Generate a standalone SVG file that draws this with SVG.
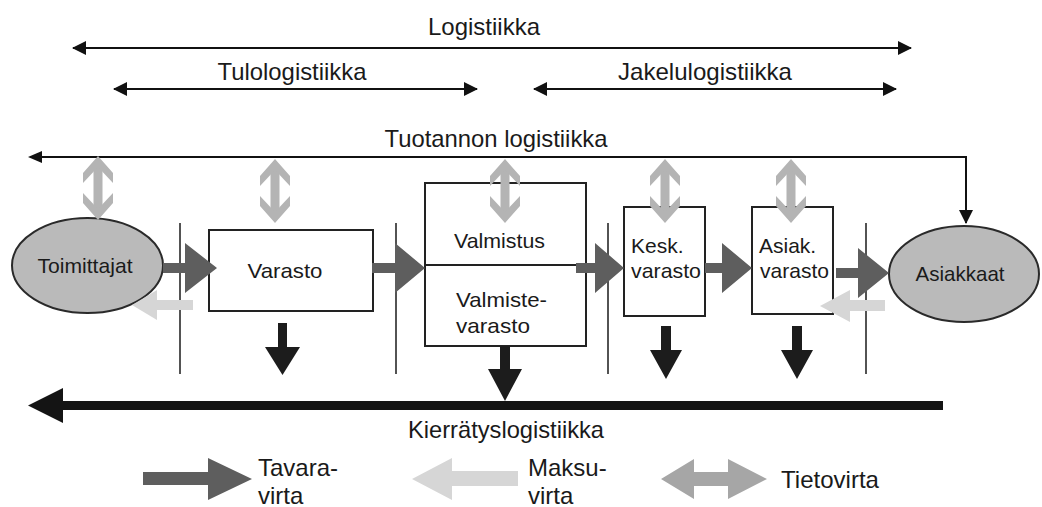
<svg xmlns="http://www.w3.org/2000/svg" width="1042" height="507" viewBox="0 0 1042 507">
  <defs>
    <style>
      .lbl { font-family: "Liberation Sans", Arial, sans-serif; fill: #1a1a1a; }
      .top { font-size: 24px; }
      .node { font-size: 21px; }
      .leg { font-size: 24px; }
      .thin { stroke: #111; stroke-width: 2; fill: none; }
      .sep { stroke: #1a1a1a; stroke-width: 1.5; }
      .box { fill: #fff; stroke: #222; stroke-width: 2; }
      .oval { fill: #bababa; stroke: #2a2a2a; stroke-width: 2; }
      .goods { fill: #5e5e5e; }
      .pay { fill: #d6d6d6; }
      .info { fill: #b4b4b4; }
      .infoLeg { fill: #a6a6a6; }
      .down { fill: #1c1c1c; }
      .heavy { fill: #141414; }
    </style>
    <marker id="tri" viewBox="0 0 14 14" refX="13" refY="7" markerWidth="14" markerHeight="14" markerUnits="userSpaceOnUse" orient="auto-start-reverse">
      <path d="M0,0 L14,7 L0,14 Z" fill="#111"/>
    </marker>
    <!-- vertical double chevron arrow (information flow), 64 px tall, centred on x=0 -->
    <g id="infoArrow">
      <rect x="-4.5" y="6" width="9" height="52" class="info"/>
      <polygon class="info" points="0,0 15,17 15,27 0,11 -15,27 -15,17"/>
      <polygon class="info" points="0,64 15,47 15,37 0,53 -15,37 -15,47"/>
    </g>
  </defs>

  <!-- scope arrows -->
  <g id="connectors">
    <line class="thin" x1="73" y1="48" x2="911" y2="48" marker-start="url(#tri)" marker-end="url(#tri)"/>
    <line class="thin" x1="114" y1="89" x2="477" y2="89" marker-start="url(#tri)" marker-end="url(#tri)"/>
    <line class="thin" x1="534" y1="89" x2="896" y2="89" marker-start="url(#tri)" marker-end="url(#tri)"/>
    <polyline class="thin" points="42,157 966,157 966,223" marker-end="url(#tri)"/>
    <path d="M28,157 L42,151 L42,163 Z" fill="#111"/>

    <!-- stage separators -->
    <line class="sep" x1="180" y1="223" x2="180" y2="374"/>
    <line class="sep" x1="396" y1="223" x2="396" y2="374"/>
    <line class="sep" x1="608" y1="223" x2="608" y2="374"/>
    <line class="sep" x1="866" y1="223" x2="866" y2="374"/>
  </g>

  <!-- nodes -->
  <g id="toimittajat">
    <ellipse class="oval" cx="87.5" cy="265.5" rx="75.5" ry="47.5"/>
    <text class="lbl node" x="85" y="273" text-anchor="middle" textLength="95" lengthAdjust="spacingAndGlyphs">Toimittajat</text>
  </g>
  <g id="varasto">
    <rect class="box" x="209" y="230" width="164" height="81"/>
    <text class="lbl node" x="285" y="278" text-anchor="middle" textLength="75" lengthAdjust="spacingAndGlyphs">Varasto</text>
  </g>
  <g id="valmistus">
    <rect class="box" x="425" y="183" width="161" height="163"/>
    <line x1="425" y1="265" x2="586" y2="265" stroke="#222" stroke-width="2"/>
    <text class="lbl node" x="454" y="248" textLength="91" lengthAdjust="spacingAndGlyphs">Valmistus</text>
    <text class="lbl node" x="456" y="307" textLength="91" lengthAdjust="spacingAndGlyphs">Valmiste-</text>
    <text class="lbl node" x="456" y="333" textLength="74" lengthAdjust="spacingAndGlyphs">varasto</text>
  </g>
  <g id="kesk-varasto">
    <rect class="box" x="624" y="207" width="81" height="109"/>
    <text class="lbl node" x="631" y="253">Kesk.</text>
    <text class="lbl node" x="631" y="278" textLength="70" lengthAdjust="spacingAndGlyphs">varasto</text>
  </g>
  <g id="asiak-varasto">
    <rect class="box" x="752" y="207" width="81" height="107"/>
    <text class="lbl node" x="759" y="253">Asiak.</text>
    <text class="lbl node" x="760" y="278" textLength="69" lengthAdjust="spacingAndGlyphs">varasto</text>
  </g>
  <g id="asiakkaat">
    <ellipse class="oval" cx="964" cy="274" rx="75" ry="48"/>
    <text class="lbl node" x="960" y="281" text-anchor="middle" textLength="89" lengthAdjust="spacingAndGlyphs">Asiakkaat</text>
  </g>

  <!-- flows -->
  <g id="flows">
    <!-- goods flow -->
    <path class="goods" d="M163,263 H185 V243 L217,268 L185,293 V273 H163 Z"/>
    <path class="goods" d="M372,263 H395 V243 L425,268 L395,293 V273 H372 Z"/>
    <path class="goods" d="M576,263 H595 V243 L624,268 L595,293 V273 H576 Z"/>
    <path class="goods" d="M705,263 H722 V243 L752,268 L722,293 V273 H705 Z"/>
    <path class="goods" d="M836,268 H858 V248 L889,273 L858,298 V278 H836 Z"/>

    <!-- payment flow -->
    <path class="pay" d="M193,300 H157 V290 L132,305 L157,320 V310 H193 Z"/>
    <path class="pay" d="M885,300 H850 V290 L820,306 L850,322 V311 H885 Z"/>

    <!-- information flow -->
    <use href="#infoArrow" x="98" y="156"/>
    <use href="#infoArrow" x="275" y="159"/>
    <use href="#infoArrow" x="505" y="159"/>
    <use href="#infoArrow" x="665" y="159"/>
    <use href="#infoArrow" x="791" y="159"/>

    <!-- return flow down to recycling -->
    <path class="down" d="M278,323 H287 V347 H300 L282.5,375 L265,347 H278 Z"/>
    <path class="down" d="M500,346 H510 V369 H522 L505,401 L488,369 H500 Z"/>
    <path class="down" d="M661,326 H671 V350 H682 L666,379 L650,350 H661 Z"/>
    <path class="down" d="M792,326 H802 V350 H813 L797,379 L781,350 H792 Z"/>

    <!-- recycling logistics -->
    <path class="heavy" d="M943,401 H63 V388 L28,405.5 L63,423 V410 H943 Z"/>
  </g>

  <!-- scope labels -->
  <g id="labels">
    <text class="lbl top" x="484" y="35" text-anchor="middle" textLength="112" lengthAdjust="spacingAndGlyphs">Logistiikka</text>
    <text class="lbl top" x="292" y="80" text-anchor="middle" textLength="149" lengthAdjust="spacingAndGlyphs">Tulologistiikka</text>
    <text class="lbl top" x="705" y="80" text-anchor="middle" textLength="174" lengthAdjust="spacingAndGlyphs">Jakelulogistiikka</text>
    <text class="lbl top" x="496" y="147" text-anchor="middle" textLength="223" lengthAdjust="spacingAndGlyphs">Tuotannon logistiikka</text>
    <text class="lbl top" x="506" y="438" text-anchor="middle" textLength="196" lengthAdjust="spacingAndGlyphs">Kierrätyslogistiikka</text>
  </g>

  <!-- legend -->
  <g id="legend">
    <path class="goods" d="M143,472 H208 V458 L252,479 L208,500 V485 H143 Z"/>
    <text class="lbl leg" x="258" y="476">Tavara-</text>
    <text class="lbl leg" x="258" y="504">virta</text>

    <path class="pay" d="M518,471 H452 V458 L412,479 L452,500 V486 H518 Z"/>
    <text class="lbl leg" x="528" y="476">Maksu-</text>
    <text class="lbl leg" x="528" y="504">virta</text>

    <path class="infoLeg" d="M661,479 L694,459 V472 H728 V459 L767,479 L728,499 V486 H694 V499 Z"/>
    <text class="lbl leg" x="781" y="488" textLength="98" lengthAdjust="spacingAndGlyphs">Tietovirta</text>
  </g>
</svg>
